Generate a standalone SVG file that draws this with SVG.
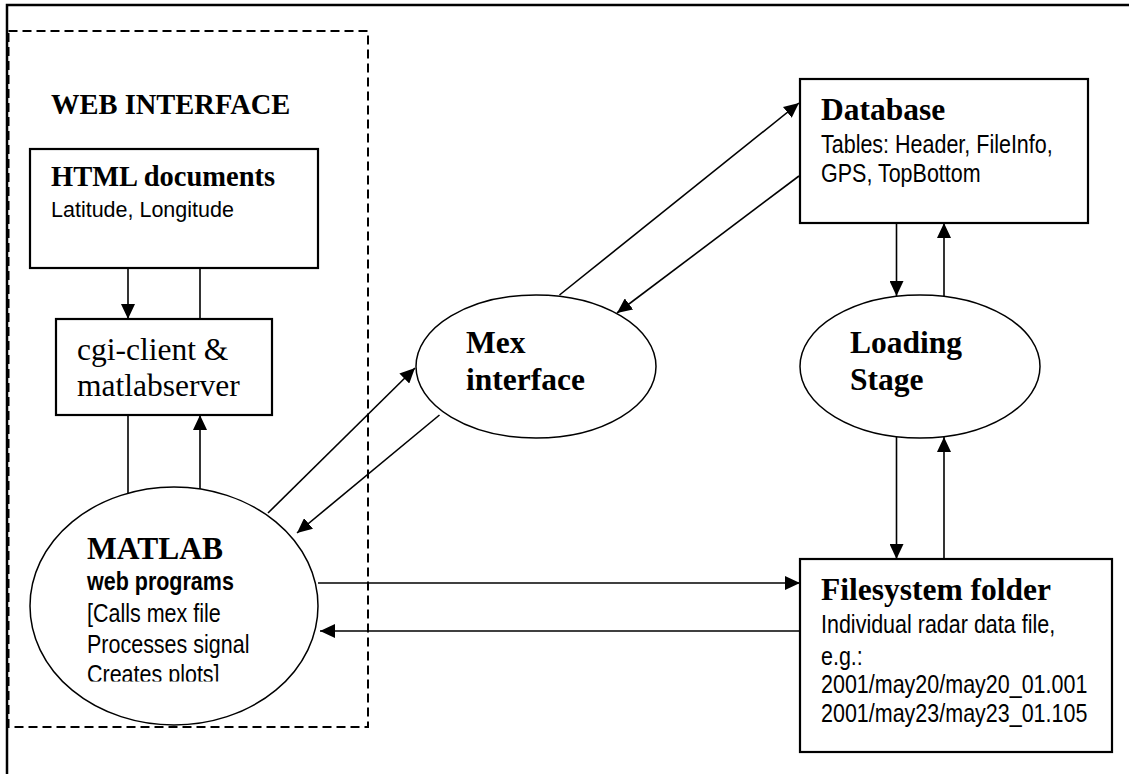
<svg xmlns="http://www.w3.org/2000/svg" width="1129" height="774" viewBox="0 0 1129 774">
<style>
.box{fill:#fff;stroke:#000;stroke-width:2.2}
.ell{fill:#fff;stroke:#000;stroke-width:1.5}
.ln{fill:none;stroke:#000;stroke-width:1.6}
.tb{font-family:"Liberation Serif",serif;font-weight:bold;fill:#000}
.tr{font-family:"Liberation Serif",serif;fill:#000}
.sa{font-family:"Liberation Sans",sans-serif;fill:#000;font-size:21.5px}
.sab{font-family:"Liberation Sans",sans-serif;font-weight:bold;fill:#000;font-size:21.5px}
</style>
<defs>
<marker id="ah" markerWidth="15" markerHeight="14" refX="15" refY="7" orient="auto" markerUnits="userSpaceOnUse">
<path d="M0,0 L15,7 L0,14 z" fill="#000"/>
</marker>
<clipPath id="clipM"><rect x="0" y="0" width="400" height="681.5"/></clipPath>
</defs>
<rect width="1129" height="774" fill="#fff"/>
<g id="frame">
<path d="M7,774 L7,5 L1129,5" fill="none" stroke="#000" stroke-width="2.5"/>
</g>
<g id="web-interface">
<rect x="8.5" y="31" width="359.5" height="696" fill="none" stroke="#000" stroke-width="2" stroke-dasharray="9 5"/>
<text class="tb" x="51" y="114" font-size="28.5">WEB INTERFACE</text>
</g>
<g id="html">
<rect class="box" x="30" y="149" width="288" height="119"/>
<text class="tb" x="51" y="186" font-size="28.5">HTML documents</text>
<text class="sa" x="51" y="217">Latitude, Longitude</text>
</g>
<g id="cgi">
<rect class="box" x="56" y="319" width="216" height="96"/>
<text class="tr" x="77" y="360" font-size="31.5">cgi-client &amp;</text>
<text class="tr" x="77" y="396" font-size="31.5">matlabserver</text>
</g>
<g id="matlab">
<ellipse class="ell" cx="174" cy="606" rx="144" ry="119"/>
<text class="tb" x="87" y="559" font-size="31.5">MATLAB</text>
<text class="sab" transform="translate(87,590) scale(1,1.18)">web programs</text>
<text class="sa" transform="translate(87,622) scale(1,1.18)">[Calls mex file</text>
<text class="sa" transform="translate(87,653) scale(1,1.18)">Processes signal</text>
<g clip-path="url(#clipM)">
<text class="sa" transform="translate(87,683) scale(1,1.18)">Creates plots]</text>
</g>
</g>
<g id="mex">
<ellipse class="ell" cx="536" cy="366.5" rx="120" ry="71.5"/>
<text class="tb" x="466" y="353" font-size="31.5">Mex</text>
<text class="tb" x="466" y="390" font-size="31.5">interface</text>
</g>
<g id="loading">
<ellipse class="ell" cx="920" cy="366.5" rx="120" ry="71.5"/>
<text class="tb" x="850" y="353" font-size="31.5">Loading</text>
<text class="tb" x="850" y="390" font-size="31.5">Stage</text>
</g>
<g id="database">
<rect class="box" x="800" y="79" width="288" height="144"/>
<text class="tb" x="821" y="120" font-size="31.5">Database</text>
<text class="sa" transform="translate(821,153) scale(1,1.18)">Tables: Header, FileInfo,</text>
<text class="sa" transform="translate(821,182) scale(1,1.18)">GPS, TopBottom</text>
</g>
<g id="filesystem">
<rect class="box" x="800" y="559" width="312" height="193"/>
<text class="tb" x="821" y="600" font-size="31.5">Filesystem folder</text>
<text class="sa" transform="translate(821,633) scale(1,1.18)">Individual radar data file,</text>
<text class="sa" transform="translate(821,665) scale(1,1.18)">e.g.:</text>
<text class="sa" transform="translate(821,693) scale(1,1.18)">2001/may20/may20_01.001</text>
<text class="sa" transform="translate(821,722) scale(1,1.18)">2001/may23/may23_01.105</text>
</g>
<g id="connectors">
<line class="ln" x1="128" y1="268" x2="128" y2="319" marker-end="url(#ah)"/>
<line class="ln" x1="200" y1="268" x2="200" y2="319"/>
<line class="ln" x1="128" y1="415" x2="128" y2="493"/>
<line class="ln" x1="200" y1="489" x2="200" y2="415" marker-end="url(#ah)"/>
<line class="ln" x1="268" y1="513" x2="415" y2="368" marker-end="url(#ah)"/>
<line class="ln" x1="439.5" y1="415" x2="297" y2="533" marker-end="url(#ah)"/>
<line class="ln" x1="559.5" y1="295" x2="799" y2="103" marker-end="url(#ah)"/>
<line class="ln" x1="799" y1="176" x2="617" y2="313" marker-end="url(#ah)"/>
<line class="ln" x1="896.5" y1="223" x2="896.5" y2="296" marker-end="url(#ah)"/>
<line class="ln" x1="944" y1="296.5" x2="944" y2="223" marker-end="url(#ah)"/>
<line class="ln" x1="896.5" y1="437" x2="896.5" y2="559" marker-end="url(#ah)"/>
<line class="ln" x1="944" y1="559" x2="944" y2="437" marker-end="url(#ah)"/>
<line class="ln" x1="318" y1="583" x2="800" y2="583" marker-end="url(#ah)"/>
<line class="ln" x1="800" y1="631" x2="320" y2="631" marker-end="url(#ah)"/>
</g>
</svg>
